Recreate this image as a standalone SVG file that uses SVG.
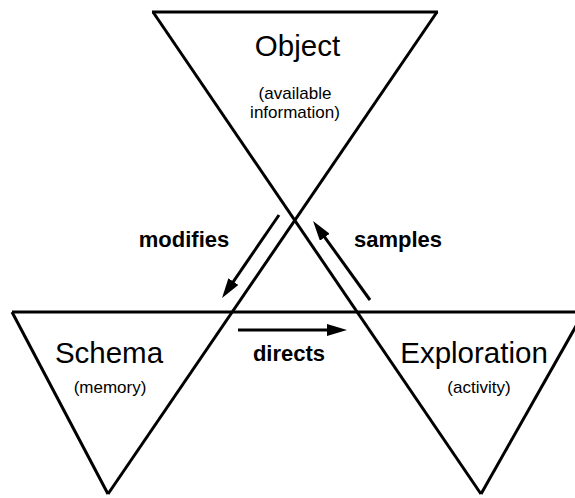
<svg xmlns="http://www.w3.org/2000/svg" width="575" height="498" viewBox="0 0 575 498">
<style>
.edge{stroke:#000;stroke-width:3;fill:none;stroke-linecap:butt}
.conn{stroke:#000;stroke-width:3;fill:none}
.title{font-family:"Liberation Sans",Arial,sans-serif;font-size:29.5px;fill:#000;text-anchor:middle}
.sub{font-family:"Liberation Sans",Arial,sans-serif;font-size:17px;fill:#000;text-anchor:middle}
.lbl{font-family:"Liberation Sans",Arial,sans-serif;font-size:22px;font-weight:bold;fill:#000;text-anchor:middle}
</style>
<defs>
<marker id="ah" markerUnits="userSpaceOnUse" markerWidth="20" markerHeight="12" refX="10" refY="6" orient="auto" viewBox="0 0 20 12">
<path d="M0,0 L20,6 L0,12 z" fill="#000"/>
</marker>
</defs>
<rect width="575" height="498" fill="#fff"/>
<g id="object">
<line class="edge" x1="152" y1="12" x2="438" y2="12"/>
<line class="edge" x1="153" y1="12" x2="481" y2="494"/>
<line class="edge" x1="437" y1="12" x2="108" y2="494"/>
<text class="title" x="297.5" y="56">Object</text>
<text class="sub" x="295" y="99">(available</text>
<text class="sub" x="295" y="118">information)</text>
</g>
<g id="schema">
<line class="edge" x1="12" y1="312" x2="575" y2="312"/>
<line class="edge" x1="12" y1="312" x2="108" y2="494"/>
<text class="title" x="109" y="363">Schema</text>
<text class="sub" x="110" y="393">(memory)</text>
</g>
<g id="exploration">
<line class="edge" x1="481" y1="494" x2="584" y2="312"/>
<text class="title" x="474" y="363">Exploration</text>
<text class="sub" x="479" y="393">(activity)</text>
</g>
<g id="connectors">
<line class="conn" x1="279" y1="215" x2="227.7" y2="289.8" marker-end="url(#ah)"/>
<line class="conn" x1="370" y1="300" x2="318.9" y2="229.1" marker-end="url(#ah)"/>
<line class="conn" x1="238" y1="330" x2="337" y2="330" marker-end="url(#ah)"/>
<text class="lbl" x="184" y="247">modifies</text>
<text class="lbl" x="398" y="247">samples</text>
<text class="lbl" x="289" y="361">directs</text>
</g>
</svg>
